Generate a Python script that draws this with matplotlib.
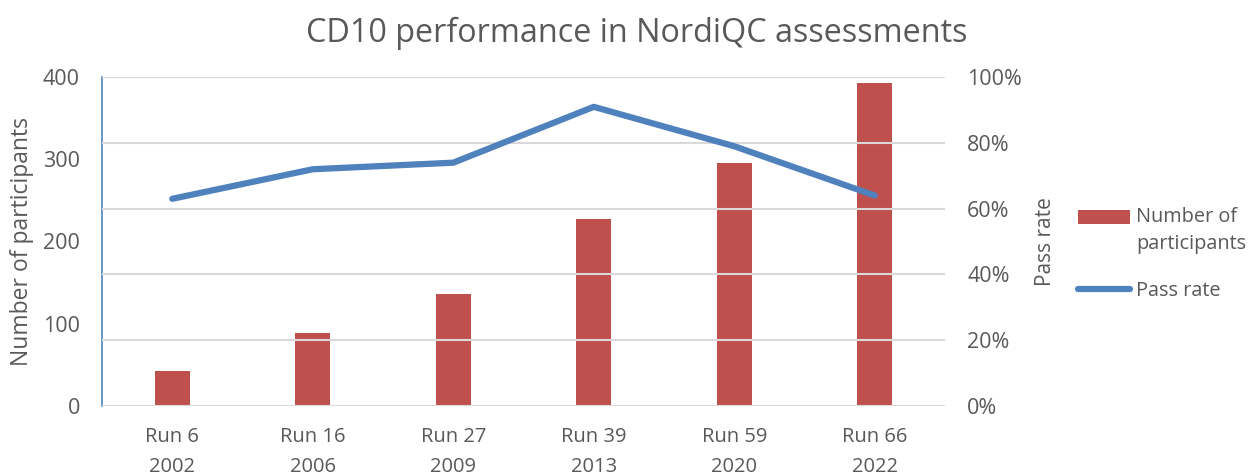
import matplotlib.pyplot as plt
from matplotlib.ticker import PercentFormatter
from matplotlib.patches import Rectangle
from matplotlib.legend_handler import HandlerPatch

# data
runs = ["Run 6\n2002", "Run 16\n2006", "Run 27\n2009", "Run 39\n2013", "Run 59\n2020", "Run 66\n2022"]
participants = [42, 88, 136, 228, 295, 393]
pass_rate = [0.63, 0.72, 0.74, 0.91, 0.79, 0.64]

text_col = "#595959"
plt.rcParams["font.family"] = ["Open Sans", "DejaVu Sans"]

fig = plt.figure(figsize=(12.55, 4.75), dpi=100)
ax = fig.add_axes([0.0813, 0.1459, 0.6717, 0.6914])
ax2 = ax.twinx()

x = range(len(runs))
bars = ax.bar(x, participants, width=0.25, color="#C0504D", zorder=2)
line, = ax2.plot(x, pass_rate, color="#4F81BD", lw=4.5, solid_capstyle="round", zorder=3)

ax.set_xlim(-0.5, len(runs) - 0.5)
ax.set_ylim(0, 400)
ax.set_yticks([0, 100, 200, 300, 400])
ax2.set_ylim(0, 1)
ax2.set_yticks([0, 0.2, 0.4, 0.6, 0.8, 1.0])
ax2.yaxis.set_major_formatter(PercentFormatter(1.0, decimals=0))

# gridlines follow the right (percent) axis
ax2.grid(axis="y", color="#D9D9D9", lw=1.5, zorder=0)

for a in (ax, ax2):
    for s in a.spines.values():
        s.set_visible(False)
    a.tick_params(length=0, colors=text_col, labelsize=15.5)
ax.spines["left"].set_visible(True)
ax.spines["left"].set_color("#4F81BD")
ax.spines["left"].set_linewidth(1.2)

ax.set_xticks(list(x))
ax.set_xticklabels(runs, linespacing=1.7)
ax.tick_params(axis="x", pad=15, labelsize=14.5)
ax.tick_params(axis="y", pad=16)
ax2.tick_params(axis="y", pad=16)

ax.set_ylabel("Number of participants", fontsize=16.5, color=text_col, labelpad=6)
ax2.set_ylabel("Pass rate", fontsize=15, color=text_col, labelpad=9)
fig.suptitle("CD10 performance in NordiQC assessments", fontsize=23.3, color=text_col, x=0.507, y=0.965)

# line above the bars
ax2.set_zorder(ax.get_zorder() + 1)
ax2.patch.set_visible(False)


# bar key sits next to the first line of its two-line label
def top_patch(legend, orig_handle, xdescent, ydescent, width, height, fontsize):
    return Rectangle((-xdescent, -ydescent + 0.72 * fontsize), width, height)


bar_key = bars.patches[0]
leg = fig.legend([bar_key, line], ["Number of\nparticipants", "Pass rate"], loc="center left",
                 bbox_to_anchor=(0.853, 0.465), frameon=False, fontsize=14.3,
                 labelcolor=text_col, handlelength=2.6, handleheight=0.68,
                 handletextpad=0.3, labelspacing=1.35, borderaxespad=0,
                 handler_map={Rectangle: HandlerPatch(patch_func=top_patch)})
for t in leg.get_texts():
    t.set_linespacing(1.5)

plt.savefig("out.png", dpi=100)
